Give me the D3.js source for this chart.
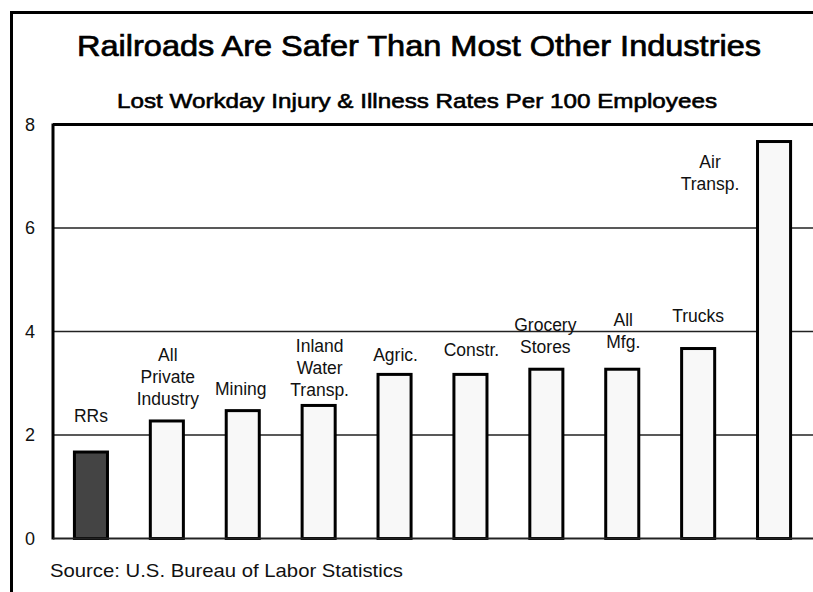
<!DOCTYPE html>
<html>
<head>
<meta charset="utf-8">
<script src="https://cdn.jsdelivr.net/npm/d3@7"></script>
<style>
  html, body { margin: 0; padding: 0; background: #fff; }
  svg { display: block; font-family: "Liberation Sans", Arial, sans-serif; }
</style>
</head>
<body>
<svg id="chart" width="813" height="592"></svg>
<script>
// chart values
var categories = ["RRs", "All Private Industry", "Mining", "Inland Water Transp.", "Agric.",
                  "Constr.", "Grocery Stores", "All Mfg.", "Trucks", "Air Transp."];
var labelLines = [["RRs"], ["All", "Private", "Industry"], ["Mining"], ["Inland", "Water", "Transp."],
                  ["Agric."], ["Constr."], ["Grocery", "Stores"], ["All", "Mfg."], ["Trucks"], ["Air", "Transp."]];
var rates = [1.7, 2.3, 2.5, 2.6, 3.2, 3.2, 3.3, 3.3, 3.7, 7.7];
var yTicks = [0, 2, 4, 6, 8];

var titleText = "Railroads Are Safer Than Most Other Industries";
var subtitleText = "Lost Workday Injury & Illness Rates Per 100 Employees";
var sourceText = "Source: U.S. Bureau of Labor Statistics";

// label placement (pixels above bar top for the last line, horizontal shift)
var labelLift = [29, 14, 14, 8, 12, 17, 15, 20, 25, -50];
var labelShift = [0, 1, -2, 1, 1, 1, -1, 1, 0, -64];

var svg = d3.select("#chart");

// outer frame (runs off the right and bottom of the picture)
svg.append("rect")
    .attr("x", 11.5).attr("y", 12.5)
    .attr("width", 900).attr("height", 700)
    .attr("fill", "none")
    .attr("stroke", "#000")
    .attr("stroke-width", 3);

var plot = { left: 53, right: 812, top: 124.5, bottom: 538.5 };

var x = d3.scaleBand()
    .domain(categories)
    .range([plot.left, plot.right])
    .paddingInner(0.525)
    .paddingOuter(0.2625);

var y = d3.scaleLinear()
    .domain([0, 8])
    .range([plot.bottom, plot.top]);

// squeeze a text to the width it has in the reference
function fitText(sel, width) {
    var w = sel.node().getComputedTextLength();
    if (w > 0) sel.attr("textLength", width).attr("lengthAdjust", "spacingAndGlyphs");
}

var title = svg.append("text")
    .attr("x", 419).attr("y", 56)
    .attr("text-anchor", "middle")
    .attr("font-size", 29)
    .attr("fill", "#000")
    .attr("stroke", "#000")
    .attr("stroke-width", 0.7)
    .text(titleText);
fitText(title, 684);

var subtitle = svg.append("text")
    .attr("x", 417).attr("y", 108)
    .attr("text-anchor", "middle")
    .attr("font-size", 21)
    .attr("fill", "#000")
    .attr("stroke", "#000")
    .attr("stroke-width", 0.6)
    .text(subtitleText);
fitText(subtitle, 600);

// gridlines
svg.append("g")
    .selectAll("line")
    .data(yTicks.filter(function(t){ return t > 0 && t < 8; }))
    .join("line")
    .attr("x1", plot.left).attr("x2", plot.right + 2)
    .attr("y1", function(d){ return y(d); })
    .attr("y2", function(d){ return y(d); })
    .attr("stroke", "#222")
    .attr("stroke-width", 1.6);

// y tick labels
svg.append("g")
    .selectAll("text")
    .data(yTicks)
    .join("text")
    .attr("x", 30)
    .attr("y", function(d){ return y(d); })
    .attr("dy", "0.36em")
    .attr("text-anchor", "middle")
    .attr("font-size", 18)
    .attr("fill", "#111")
    .text(function(d){ return d; });

// bars
svg.append("g")
    .selectAll("rect")
    .data(categories)
    .join("rect")
    .attr("x", function(d){ return x(d) + 1.5; })
    .attr("y", function(d, i){ return y(rates[i]) + 1.5; })
    .attr("width", x.bandwidth() - 3)
    .attr("height", function(d, i){ return y(0) - y(rates[i]) - 1.5; })
    .attr("fill", function(d, i){ return i === 0 ? "#444" : "#f8f8f8"; })
    .attr("stroke", "#000")
    .attr("stroke-width", 3);

// plot frame: left and top border, zero line
svg.append("line")
    .attr("x1", plot.left).attr("x2", plot.left)
    .attr("y1", plot.top - 1).attr("y2", plot.bottom + 1)
    .attr("stroke", "#000").attr("stroke-width", 3);
svg.append("line")
    .attr("x1", plot.left).attr("x2", plot.right + 2)
    .attr("y1", plot.top).attr("y2", plot.top)
    .attr("stroke", "#000").attr("stroke-width", 3);
svg.append("line")
    .attr("x1", plot.left).attr("x2", plot.right + 2)
    .attr("y1", plot.bottom).attr("y2", plot.bottom)
    .attr("stroke", "#222").attr("stroke-width", 2);

// category labels above bars
var lineHeight = 22;
var labels = svg.append("g")
    .selectAll("text")
    .data(categories)
    .join("text")
    .attr("text-anchor", "middle")
    .attr("font-size", 17.5)
    .attr("fill", "#111");

labels.each(function(d, i){
    var lines = labelLines[i];
    var cx = x(d) + x.bandwidth() / 2 + labelShift[i];
    var last = y(rates[i]) - labelLift[i];
    var t = d3.select(this);
    lines.forEach(function(line, k){
        t.append("tspan")
            .attr("x", cx)
            .attr("y", last - (lines.length - 1 - k) * lineHeight)
            .text(line);
    });
});

// source note
var source = svg.append("text")
    .attr("x", 50).attr("y", 577)
    .attr("font-size", 19)
    .attr("fill", "#111")
    .text(sourceText);
fitText(source, 353);
</script>
</body>
</html>
